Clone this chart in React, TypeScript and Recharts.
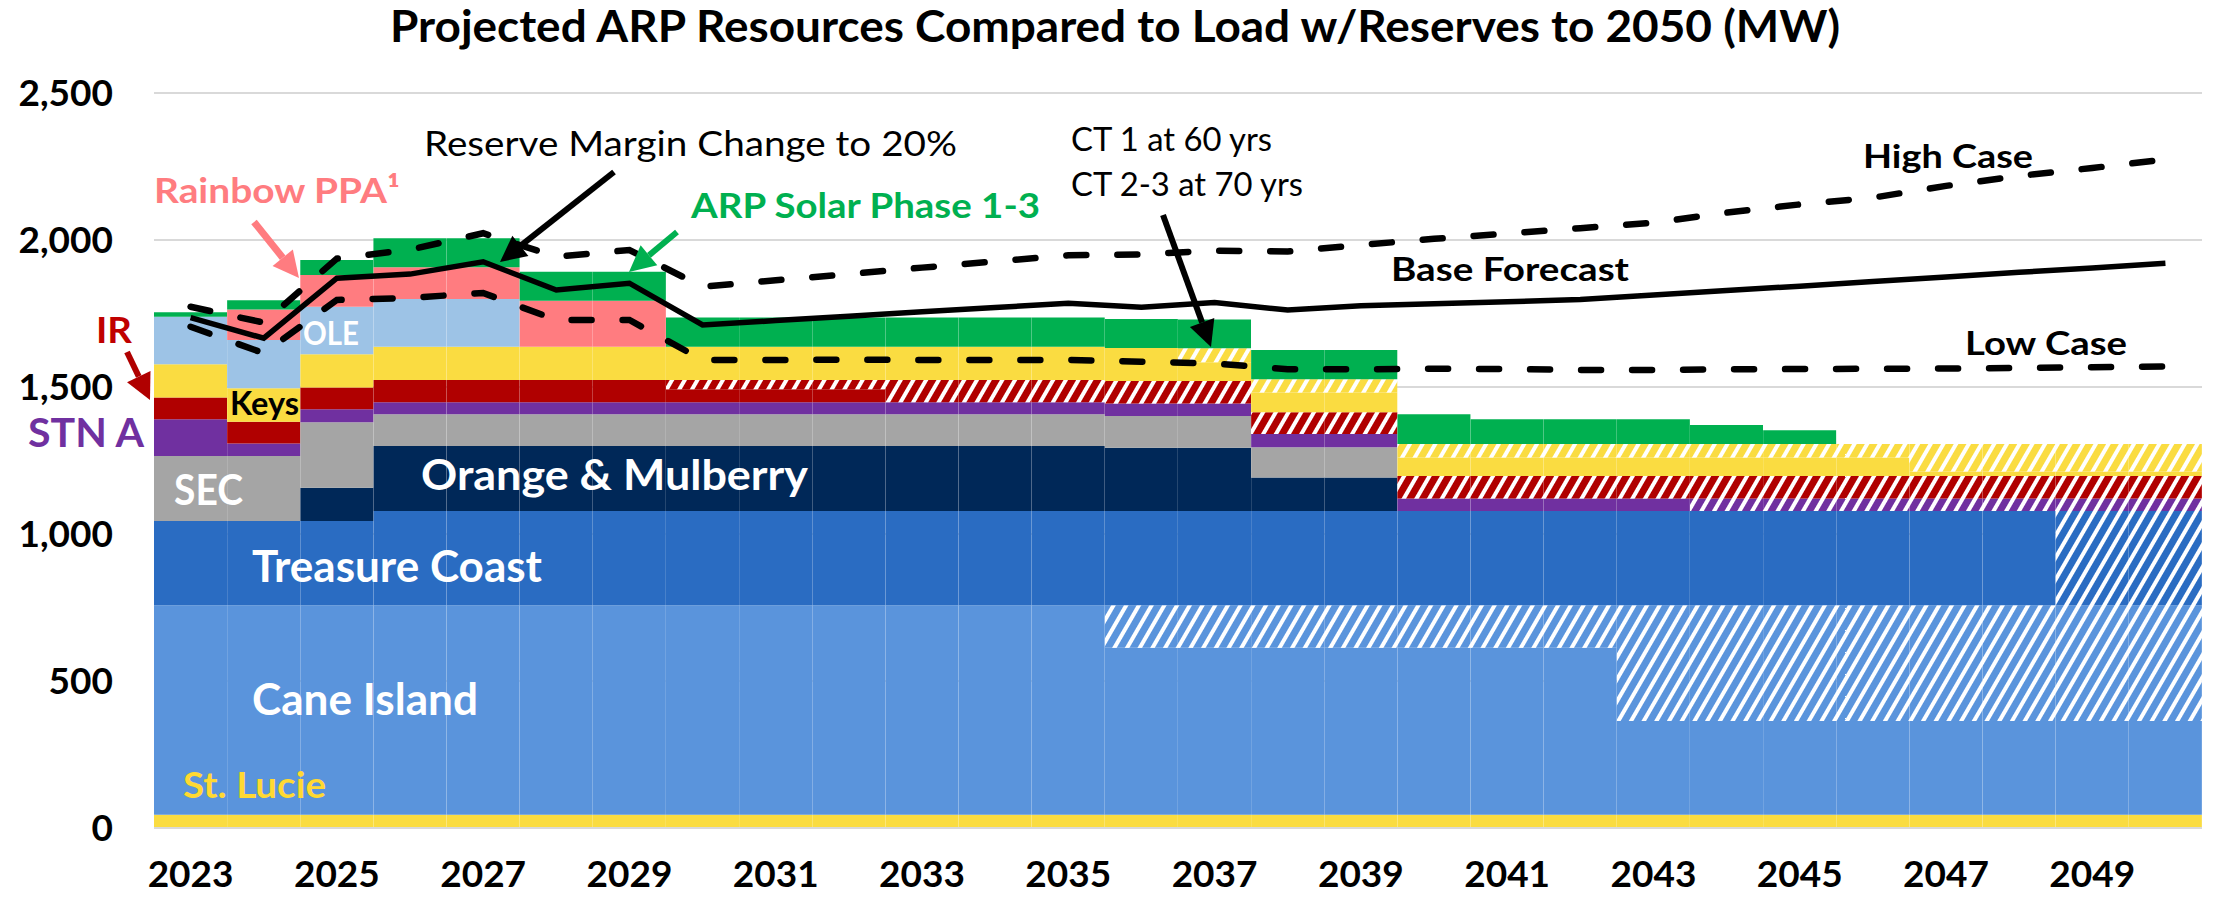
import React from 'react';
import { Bar, CartesianGrid, ComposedChart, Line, XAxis, YAxis } from 'recharts';

// 2023 .. 2050
const years = [
  2023, 2024, 2025, 2026, 2027, 2028, 2029, 2030, 2031, 2032, 2033, 2034, 2035, 2036,
  2037, 2038, 2039, 2040, 2041, 2042, 2043, 2044, 2045, 2046, 2047, 2048, 2049, 2050,
];

// capacity layers (MW), bottom to top; "Ret" = retired portion (hatched)
const stLucie = [45, 45, 45, 45, 45, 45, 45, 45, 45, 45, 45, 45, 45, 45, 45, 45, 45, 45, 45, 45, 45, 45, 45, 45, 45, 45, 45, 45];
const caneIsland = [713, 713, 713, 713, 713, 713, 713, 713, 713, 713, 713, 713, 713, 568, 568, 568, 568, 568, 568, 568, 319, 319, 319, 319, 319, 319, 319, 319];
const caneIslandRet = [0, 0, 0, 0, 0, 0, 0, 0, 0, 0, 0, 0, 0, 145, 145, 145, 145, 145, 145, 145, 394, 394, 394, 394, 394, 394, 394, 394];
const treasureCoast = [286, 286, 286, 320, 320, 320, 320, 320, 320, 320, 320, 320, 320, 320, 320, 320, 320, 320, 320, 320, 320, 320, 320, 320, 320, 320, 0, 0];
const treasureCoastRet = [0, 0, 0, 0, 0, 0, 0, 0, 0, 0, 0, 0, 0, 0, 0, 0, 0, 0, 0, 0, 0, 0, 0, 0, 0, 0, 320, 320];
const orangeMulberry = [0, 0, 113, 221, 221, 221, 221, 221, 221, 221, 221, 221, 221, 215, 215, 114, 114, 0, 0, 0, 0, 0, 0, 0, 0, 0, 0, 0];
const sec = [221, 221, 223, 108, 108, 108, 108, 108, 108, 108, 108, 108, 108, 108, 108, 103, 103, 0, 0, 0, 0, 0, 0, 0, 0, 0, 0, 0];
const stnA = [125, 43, 44, 41, 41, 41, 41, 41, 41, 41, 41, 41, 41, 43, 43, 45, 45, 43, 43, 43, 43, 0, 0, 0, 0, 0, 0, 0];
const stnARet = [0, 0, 0, 0, 0, 0, 0, 0, 0, 0, 0, 0, 0, 0, 0, 0, 0, 0, 0, 0, 0, 43, 43, 43, 43, 43, 43, 43];
const ir = [74, 74, 74, 76, 76, 76, 76, 44, 44, 44, 0, 0, 0, 0, 0, 0, 0, 0, 0, 0, 0, 0, 0, 0, 0, 0, 0, 0];
const irRet = [0, 0, 0, 0, 0, 0, 0, 32, 32, 32, 76, 76, 76, 76, 76, 74, 74, 76, 76, 76, 76, 76, 76, 76, 76, 76, 76, 76];
const keys = [113, 114, 113, 113, 113, 113, 113, 113, 113, 113, 113, 113, 113, 113, 64, 67, 67, 63, 63, 63, 63, 63, 63, 63, 16, 16, 16, 16];
const keysRet = [0, 0, 0, 0, 0, 0, 0, 0, 0, 0, 0, 0, 0, 0, 48, 45, 45, 46, 46, 46, 46, 46, 46, 46, 93, 93, 93, 93];
const ole = [162, 164, 162, 162, 162, 0, 0, 0, 0, 0, 0, 0, 0, 0, 0, 0, 0, 0, 0, 0, 0, 0, 0, 0, 0, 0, 0, 0];
const rainbow = [0, 104, 108, 108, 108, 156, 156, 0, 0, 0, 0, 0, 0, 0, 0, 0, 0, 0, 0, 0, 0, 0, 0, 0, 0, 0, 0, 0];
const solar = [15, 31, 51, 99, 99, 99, 99, 99, 99, 99, 99, 99, 99, 98, 98, 100, 100, 101, 84, 84, 84, 65, 47, 0, 0, 0, 0, 0];

// load w/ reserves (MW)
const baseForecast = [1736, 1666, 1870, 1884, 1926, 1830, 1853, 1711, 1726, 1741, 1756, 1770, 1785, 1771, 1787, 1762, 1776, 1783, 1790, 1798, 1813, 1828, 1843, 1859, 1874, 1890, 1905, 1921];
const highCase = [1773, 1719, 1937, 1967, 2023, 1943, 1966, 1841, 1863, 1884, 1906, 1927, 1948, 1951, 1964, 1961, 1983, 2004, 2022, 2040, 2059, 2093, 2121, 2144, 2184, 2218, 2245, 2274];
const lowCase = [1705, 1615, 1796, 1803, 1820, 1728, 1728, 1592, 1592, 1593, 1592, 1592, 1592, 1586, 1580, 1560, 1560, 1562, 1561, 1558, 1558, 1560, 1561, 1562, 1563, 1565, 1567, 1570];

const yTicks = [0, 500, 1000, 1500, 2000, 2500];

const data = years.map((year, i) => ({
  year,
  stLucie: stLucie[i],
  caneIsland: caneIsland[i],
  caneIslandRet: caneIslandRet[i],
  treasureCoast: treasureCoast[i],
  treasureCoastRet: treasureCoastRet[i],
  orangeMulberry: orangeMulberry[i],
  sec: sec[i],
  stnA: stnA[i],
  stnARet: stnARet[i],
  ir: ir[i],
  irRet: irRet[i],
  keys: keys[i],
  keysRet: keysRet[i],
  ole: ole[i],
  rainbow: rainbow[i],
  solar: solar[i],
  base: baseForecast[i],
  high: highCase[i],
  low: lowCase[i],
}));

const C = {
  yellow: '#FADC41',
  cane: '#5A94DC',
  tc: '#2A6CC2',
  navy: '#002858',
  gray: '#A5A5A5',
  purple: '#7030A0',
  red: '#B00000',
  ole: '#9DC3E6',
  pink: '#FF7C80',
  green: '#00B050',
};

const FONT = 'Lato, "Open Sans", sans-serif';

const hatches: [string, string][] = [
  ['hCane', C.cane],
  ['hTc', C.tc],
  ['hPurple', C.purple],
  ['hRed', C.red],
  ['hYellow', C.yellow],
];

const Arrow = ({ x1, y1, x2, y2, color, w = 6 }: { x1: number; y1: number; x2: number; y2: number; color: string; w?: number }) => {
  const a = Math.atan2(y2 - y1, x2 - x1);
  const L = 26;
  const H = 13;
  const bx = x2 - L * Math.cos(a);
  const by = y2 - L * Math.sin(a);
  const px = -Math.sin(a) * H;
  const py = Math.cos(a) * H;
  return (
    <g>
      <line x1={x1} y1={y1} x2={bx} y2={by} stroke={color} strokeWidth={w} />
      <polygon points={`${x2},${y2} ${bx + px},${by + py} ${bx - px},${by - py}`} fill={color} />
    </g>
  );
};

type Lbl = { t: string; x: number; y: number; s: number; w: number; c?: string; b?: boolean; mid?: boolean };
const labels: Lbl[] = [
  { t: 'Projected ARP Resources Compared to Load w/Reserves to 2050 (MW)', x: 1115, y: 42, s: 44, w: 1450, b: true, mid: true },
  { t: 'Reserve Margin Change to 20%', x: 424, y: 156, s: 35, w: 533 },
  { t: 'Rainbow PPA\u00B9', x: 154, y: 203, s: 35, w: 246, c: C.pink, b: true },
  { t: 'ARP Solar Phase 1-3', x: 691, y: 218, s: 35, w: 349, c: C.green, b: true },
  { t: 'CT 1 at 60 yrs', x: 1071, y: 151, s: 32, w: 201 },
  { t: 'CT 2-3 at 70 yrs', x: 1071, y: 196, s: 32, w: 232 },
  { t: 'High Case', x: 1863, y: 168, s: 33, w: 170, b: true },
  { t: 'Base Forecast', x: 1391, y: 281, s: 33, w: 238, b: true },
  { t: 'Low Case', x: 1965, y: 355, s: 33, w: 162, b: true },
  { t: 'IR', x: 96, y: 343, s: 36, w: 36, c: '#C00000', b: true },
  { t: 'STN A', x: 28, y: 447, s: 40, w: 116, c: C.purple, b: true },
  { t: 'Keys', x: 230, y: 415, s: 32, w: 69, c: '#000', b: true },
  { t: 'OLE', x: 303, y: 345, s: 32, w: 56, c: '#fff', b: true },
  { t: 'SEC', x: 174, y: 505, s: 42, w: 69, c: '#fff', b: true },
  { t: 'Orange & Mulberry', x: 421, y: 490, s: 42, w: 387, c: '#fff', b: true },
  { t: 'Treasure Coast', x: 252, y: 582, s: 44, w: 290, c: '#fff', b: true },
  { t: 'Cane Island', x: 252, y: 715, s: 44, w: 226, c: '#fff', b: true },
  { t: 'St. Lucie', x: 183, y: 798, s: 36, w: 143, c: '#FFD932', b: true },
];

const tickStyle = { fill: '#000', fontSize: 37, fontWeight: 700, fontFamily: FONT };

export default function App() {
  return (
    <div style={{ position: 'fixed', left: 0, top: 0, width: 2216, height: 900, background: '#fff', fontFamily: FONT }}>
      <svg width={0} height={0} style={{ position: 'absolute' }}>
        <defs>
          {hatches.map(([id, col]) => (
            <pattern key={id} id={id} patternUnits="userSpaceOnUse" width={11} height={11} patternTransform="rotate(30)">
              <rect width={11} height={11} fill={col} />
              <rect width={4} height={11} fill="#fff" />
            </pattern>
          ))}
        </defs>
      </svg>
      <ComposedChart
        width={2216}
        height={900}
        data={data}
        margin={{ top: 93, right: 14, bottom: 0, left: 0 }}
        barCategoryGap={0}
        barGap={0}
      >
        <CartesianGrid vertical={false} stroke="#D9D9D9" strokeWidth={2} />
        <XAxis
          dataKey="year"
          interval={1}
          height={72}
          tickLine={false}
          tickMargin={27}
          axisLine={{ stroke: '#D9D9D9', strokeWidth: 2 }}
          tick={tickStyle}
        />
        <YAxis
          width={154}
          domain={[0, 2500]}
          ticks={yTicks}
          tickFormatter={(v: number) => v.toLocaleString('en-US')}
          axisLine={false}
          tickLine={false}
          tickMargin={35}
          tick={tickStyle}
        />
        <Bar dataKey="stLucie" stackId="cap" fill={C.yellow} isAnimationActive={false} />
        <Bar dataKey="caneIsland" stackId="cap" fill={C.cane} isAnimationActive={false} />
        <Bar dataKey="caneIslandRet" stackId="cap" fill="url(#hCane)" isAnimationActive={false} />
        <Bar dataKey="treasureCoast" stackId="cap" fill={C.tc} isAnimationActive={false} />
        <Bar dataKey="treasureCoastRet" stackId="cap" fill="url(#hTc)" isAnimationActive={false} />
        <Bar dataKey="orangeMulberry" stackId="cap" fill={C.navy} isAnimationActive={false} />
        <Bar dataKey="sec" stackId="cap" fill={C.gray} isAnimationActive={false} />
        <Bar dataKey="stnA" stackId="cap" fill={C.purple} isAnimationActive={false} />
        <Bar dataKey="stnARet" stackId="cap" fill="url(#hPurple)" isAnimationActive={false} />
        <Bar dataKey="ir" stackId="cap" fill={C.red} isAnimationActive={false} />
        <Bar dataKey="irRet" stackId="cap" fill="url(#hRed)" isAnimationActive={false} />
        <Bar dataKey="keys" stackId="cap" fill={C.yellow} isAnimationActive={false} />
        <Bar dataKey="keysRet" stackId="cap" fill="url(#hYellow)" isAnimationActive={false} />
        <Bar dataKey="ole" stackId="cap" fill={C.ole} isAnimationActive={false} />
        <Bar dataKey="rainbow" stackId="cap" fill={C.pink} isAnimationActive={false} />
        <Bar dataKey="solar" stackId="cap" fill={C.green} isAnimationActive={false} />
        <Line dataKey="base" stroke="#000" strokeWidth={5.5} dot={false} isAnimationActive={false} />
        <Line dataKey="high" stroke="#000" strokeWidth={6.5} strokeDasharray="20 31" strokeLinecap="round" dot={false} isAnimationActive={false} />
        <Line dataKey="low" stroke="#000" strokeWidth={6.5} strokeDasharray="20 31" strokeLinecap="round" dot={false} isAnimationActive={false} />
      </ComposedChart>
      <svg width={2216} height={900} style={{ position: 'absolute', left: 0, top: 0, pointerEvents: 'none' }}>
        <Arrow x1={614} y1={172} x2={500} y2={262} color="#000" />
        <Arrow x1={254} y1={222} x2={299} y2={278} color={C.pink} w={7} />
        <Arrow x1={677} y1={232} x2={629} y2={272} color={C.green} />
        <Arrow x1={1163} y1={215} x2={1211} y2={347} color="#000" />
        <Arrow x1={127} y1={352} x2={150} y2={400} color="#B00000" />
        {labels.map((l) => (
          <text
            key={l.t}
            x={l.x}
            y={l.y}
            fontSize={l.s}
            fontWeight={l.b ? 700 : 400}
            fill={l.c ?? '#000'}
            fontFamily={FONT}
            textAnchor={l.mid ? 'middle' : 'start'}
            textLength={l.w}
            lengthAdjust="spacingAndGlyphs"
          >
            {l.t}
          </text>
        ))}
      </svg>
    </div>
  );
}
